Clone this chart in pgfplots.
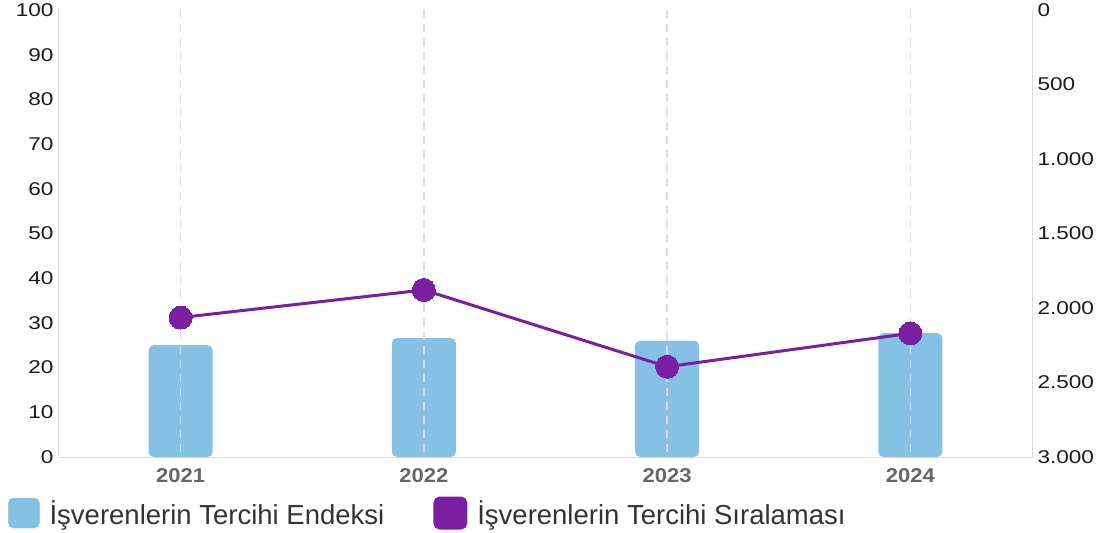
\documentclass[border=0pt]{standalone}
\usepackage{pgfplots}
\pgfplotsset{compat=1.18}
\usepackage{fontspec}
\setmainfont{Liberation Sans}
\newfontfamily\tickfont{Liberation Sans}[FakeStretch=1.22]
\newfontfamily\yearfont{Liberation Sans}[FakeStretch=1.1]
\definecolor{barc}{HTML}{85C1E5}
\definecolor{purplec}{HTML}{7B1FA2}
\definecolor{gridc}{HTML}{DDDDDD}
\definecolor{yearc}{HTML}{666666}
\definecolor{tickc}{HTML}{1A1A1A}
\definecolor{legendc}{HTML}{333333}
\begin{document}
\begin{tikzpicture}
\useasboundingbox (-59pt,-76pt) rectangle (1050pt,457pt);
\begin{axis}[
  scale only axis, width=973pt, height=447pt,
  xmin=-0.5, xmax=3.5, ymin=0, ymax=100,
  axis x line*=bottom, axis y line*=left,
  axis line style={draw=gridc, line width=1pt, -},
  xtick={0,1,2,3}, xticklabels={2021,2022,2023,2024},
  ytick={0,10,...,100},
  major tick length=0pt,
  xticklabel style={font=\yearfont\bfseries\fontsize{20}{22}\selectfont, text=yearc, yshift=-8pt},
  yticklabel style={font=\tickfont\fontsize{18.5}{20}\selectfont, text=tickc, xshift=-2pt},
  /pgf/number format/assume math mode=true,
  ybar, bar width=64pt,
]
\addplot[fill=barc, draw=none, rounded corners=5pt, bar shift=0pt] coordinates {(0,25.0) (1,26.6) (2,26.0) (3,27.7)};
\end{axis}
\begin{axis}[
  scale only axis, width=973pt, height=447pt,
  xmin=-0.5, xmax=3.5, ymin=0, ymax=3000, y dir=reverse,
  axis x line*=bottom, axis y line*=right,
  axis line style={draw=gridc, line width=1pt, -},
  x axis line style={draw=none},
  xtick={0,1,2,3}, xticklabels={},
  xmajorgrids, major x grid style={draw=gridc, dash pattern=on 8pt off 6pt, line width=1.3pt},
  axis on top,
  major tick length=0pt,
  ytick={0,500,...,3000}, yticklabels={0,500,1.000,1.500,2.000,2.500,3.000},
  yticklabel style={font=\tickfont\fontsize{18.5}{20}\selectfont, text=tickc, xshift=2pt},
  legend columns=2,
  legend style={at={(axis description cs:0,0)}, anchor=west, xshift=-51pt, yshift=-56pt,
    draw=none, fill=none, inner sep=0pt,
    font=\fontsize{27.5}{30}\selectfont, text=legendc,
    /tikz/every odd column/.append style={column sep=8pt},
    /tikz/every even column/.append style={column sep=47pt}},
]
\addlegendimage{legend image code/.code={\fill[barc, rounded corners=5pt] (0pt,-15pt) rectangle (31pt,15pt);}}
\addlegendentry{İşverenlerin Tercihi Endeksi}
\addplot[purplec, line width=3pt, mark=*, mark size=11.5pt, mark options={fill=purplec, draw=purplec, line width=0pt},
  legend image code/.code={\fill[purplec, rounded corners=5pt] (0pt,-15pt) rectangle (31pt,15pt);}]
  coordinates {(0,2064) (1,1879) (2,2394) (3,2170)};
\addlegendentry{İşverenlerin Tercihi Sıralaması}
\end{axis}
\end{tikzpicture}
\end{document}
